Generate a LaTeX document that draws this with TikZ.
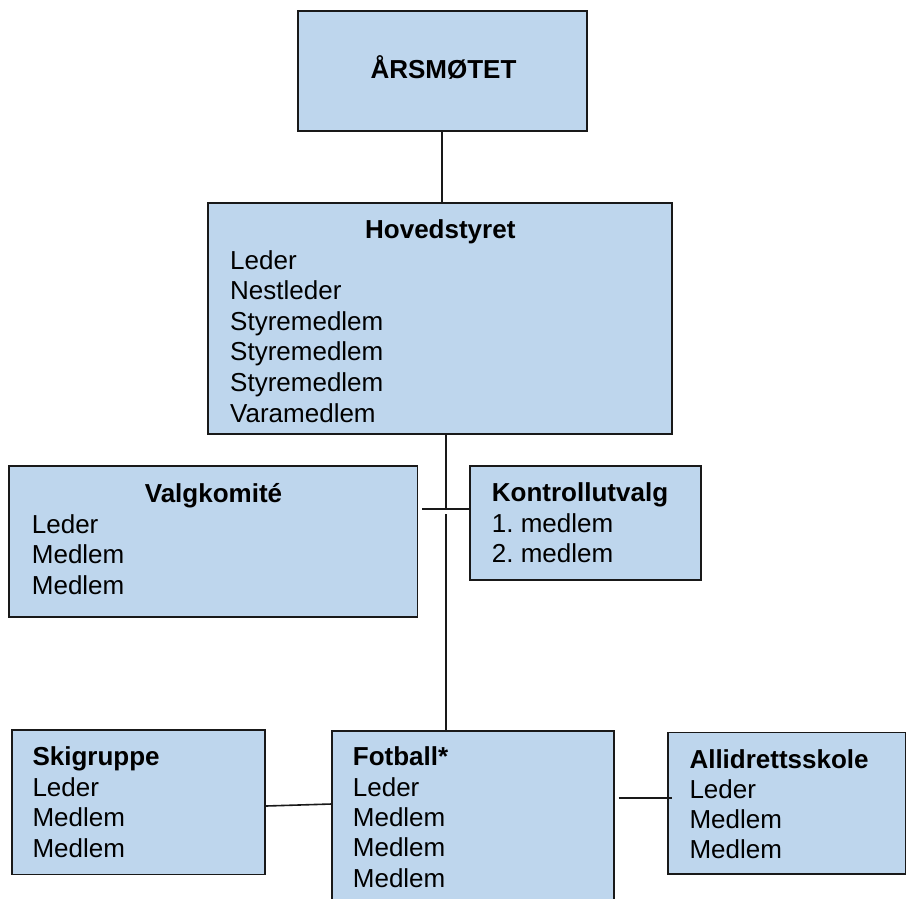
\documentclass[tikz,border=0pt]{standalone}
\usepackage{fontspec}
\setmainfont{Liberation Sans}
\frenchspacing
\definecolor{boxfill}{RGB}{190,214,237}
\definecolor{edge}{RGB}{25,25,25}
\begin{document}
\begin{tikzpicture}[x=1pt,y=-1pt,
  orgbox/.style={rectangle,draw=edge,line width=1.7pt,fill=boxfill,inner sep=0pt},
  txt/.style={inner sep=0pt,font=\fontsize{26}{30}\selectfont,text=black},
  ttl/.style={txt,font=\fontsize{26}{30}\selectfont\bfseries},
  conn/.style={draw=edge,line width=1.6pt}]
\clip (0,0) rectangle (907,898);
\fill[white] (0,0) rectangle (907,898);
% boxes
\node[orgbox,minimum width=289pt,minimum height=120.3pt] (arsmote) at (442.2,70.85) {};
\node[orgbox,minimum width=464pt,minimum height=231pt] (hoved) at (440.3,318.8) {};
\node[orgbox,minimum width=408.3pt,minimum height=150.7pt] (valg) at (213.2,541.3) {};
\node[orgbox,minimum width=230.7pt,minimum height=114pt] (kontroll) at (585.3,523) {};
\node[orgbox,minimum width=253pt,minimum height=144.3pt] (ski) at (138.5,802.2) {};
\node[orgbox,minimum width=282pt,minimum height=229.3pt] (fotball) at (473.3,845.3) {};
\node[orgbox,minimum width=237.2pt,minimum height=141.7pt] (alli) at (786.9,803.2) {};
% texts
\node[ttl,anchor=base] (t-ars) at (443.5,78.3) {ÅRSMØTET};
\node[ttl,anchor=base] (t-hov) at (440.3,238.3) {Hovedstyret};
\foreach \t [count=\i from 0] in {Leder,Nestleder,Styremedlem,Styremedlem,Styremedlem,Varamedlem}
  \node[txt,anchor=base west] (hov-\i) at (230,{269+30.6*\i}) {\t};
\node[ttl,anchor=base] (t-valg) at (213.5,502) {Valgkomité};
\foreach \t [count=\i from 0] in {Leder,Medlem,Medlem}
  \node[txt,anchor=base west] (valg-\i) at (31.7,{533+30.5*\i}) {\t};
\node[ttl,anchor=base west] (t-kon) at (491.7,501.7) {Kontrollutvalg};
\node[txt,anchor=base west] (kon-0) at (491.7,532.3) {1. medlem};
\node[txt,anchor=base west] (kon-1) at (491.7,562.3) {2. medlem};
\node[ttl,anchor=base west] (t-ski) at (32.3,765) {Skigruppe};
\foreach \t [count=\i from 0] in {Leder,Medlem,Medlem}
  \node[txt,anchor=base west] (ski-\i) at (32.3,{796.5+30.3*\i}) {\t};
\node[ttl,anchor=base west] (t-fot) at (352.7,765.7) {Fotball*};
\foreach \t [count=\i from 0] in {Leder,Medlem,Medlem,Medlem}
  \node[txt,anchor=base west] (fot-\i) at (352.7,{796.7+30.1*\i}) {\t};
\node[ttl,anchor=base west] (t-alli) at (689.3,768.3) {Allidrettsskole};
\foreach \t [count=\i from 0] in {Leder,Medlem,Medlem}
  \node[txt,anchor=base west] (alli-\i) at (689.3,{798.3+30*\i}) {\t};
% connectors
\coordinate (j1) at (445.7,509);
\coordinate (j2) at (445.7,514);
\coordinate (hl) at (422,509);
\coordinate (fa) at (618.5,798);
\coordinate (ae) at (672,798);
\draw[conn] (arsmote.south) -- (arsmote.south |- hoved.north);
\draw[conn] (hoved.south -| j1) -- (j1);
\draw[conn] (j2) -- (j2 |- fotball.north);
\draw[conn] (hl) -- (kontroll.west |- hl);
\draw[conn] (ski.east |- 0,806) -- (fotball.west |- 0,804);
\draw[conn] (fa) -- (ae);
\end{tikzpicture}
\end{document}
